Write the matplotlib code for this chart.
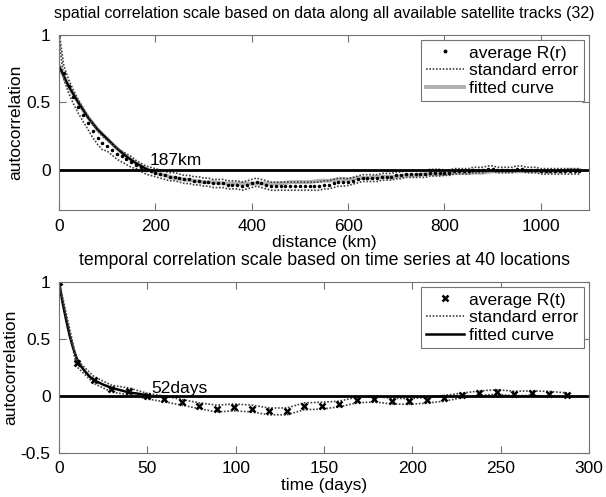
import numpy as np
import matplotlib.pyplot as plt

plt.rcParams['font.family'] = ['Liberation Sans', 'DejaVu Sans']

# spatial: average R(r) every 10 km
dist_km = np.arange(0, 1090, 10)
avg_r = [1.00, 0.72, 0.62, 0.54, 0.47, 0.41, 0.35, 0.29, 0.24, 0.20,
         0.18, 0.15, 0.12, 0.10, 0.08, 0.06, 0.04, 0.02, 0.00, -0.01,
         -0.02, -0.03, -0.04, -0.05, -0.05, -0.06, -0.07, -0.07, -0.08, -0.08,
         -0.09, -0.09, -0.10, -0.10, -0.10, -0.11, -0.11, -0.11, -0.12, -0.11,
         -0.10, -0.09, -0.10, -0.11, -0.12, -0.12, -0.12, -0.12, -0.12, -0.12,
         -0.12, -0.12, -0.12, -0.12, -0.12, -0.11, -0.11, -0.10, -0.09, -0.09,
         -0.09, -0.08, -0.07, -0.06, -0.06, -0.06, -0.06, -0.05, -0.05, -0.05,
         -0.04, -0.04, -0.03, -0.03, -0.03, -0.03, -0.03, -0.02, -0.02, -0.02,
         -0.02, -0.02, -0.01, -0.01, -0.01, -0.01, 0.00, 0.00, 0.00, 0.01,
         0.01, 0.00, 0.00, 0.00, 0.00, 0.01, 0.01, 0.00, 0.00, 0.00,
         -0.01, -0.01, -0.01, -0.01, -0.01, -0.01, -0.01, -0.01, -0.01]
se_r = [0.03, 0.05, 0.05, 0.05, 0.05, 0.05, 0.05, 0.05, 0.05, 0.05,
        0.04, 0.04, 0.04, 0.04, 0.04, 0.04, 0.03, 0.03, 0.03, 0.03,
        0.03, 0.03, 0.03, 0.03, 0.03, 0.03, 0.03, 0.03, 0.03, 0.03,
        0.03, 0.03, 0.03, 0.03, 0.03, 0.03, 0.03, 0.03, 0.03, 0.03,
        0.03, 0.03, 0.03, 0.03, 0.03, 0.03, 0.03, 0.03, 0.03, 0.03,
        0.03, 0.03, 0.03, 0.03, 0.03, 0.03, 0.03, 0.03, 0.03, 0.03,
        0.025, 0.025, 0.025, 0.025, 0.025, 0.025, 0.025, 0.025, 0.025, 0.025,
        0.025, 0.025, 0.025, 0.025, 0.025, 0.025, 0.025, 0.025, 0.025, 0.025,
        0.02, 0.02, 0.02, 0.02, 0.02, 0.02, 0.02, 0.02, 0.02, 0.02,
        0.02, 0.02, 0.02, 0.02, 0.02, 0.02, 0.02, 0.02, 0.02, 0.02,
        0.02, 0.02, 0.02, 0.02, 0.02, 0.02, 0.02, 0.02, 0.02]
fit_r_km = [0, 20, 40, 60, 80, 100, 120, 140, 160, 180, 187, 200, 220, 240, 260,
            280, 300, 320, 340, 360, 380, 400, 420, 440, 460, 480, 500, 520, 540,
            560, 580, 600, 620, 640, 660, 680, 700, 720, 740, 760, 780, 800, 820,
            840, 860, 880, 900, 920, 940, 960, 980, 1000, 1020, 1040, 1060, 1080]
fit_r = [0.77, 0.62, 0.50, 0.39, 0.30, 0.23, 0.16, 0.10, 0.05, 0.01, 0.00, -0.02,
         -0.04, -0.06, -0.07, -0.08, -0.09, -0.09, -0.10, -0.10, -0.10, -0.10,
         -0.10, -0.10, -0.10, -0.09, -0.09, -0.09, -0.08, -0.08, -0.07, -0.07,
         -0.06, -0.06, -0.05, -0.05, -0.05, -0.04, -0.04, -0.03, -0.03, -0.03,
         -0.02, -0.02, -0.02, -0.02, -0.01, -0.01, -0.01, -0.01, -0.01, -0.01,
         -0.01, -0.01, 0.00, 0.00]
scale_km = 187

# temporal: average R(t) at each repeat cycle
lag_days = [0, 9.9, 19.8, 29.7, 39.7, 49.6, 59.5, 69.4, 79.3, 89.2, 99.2, 109.1,
            119.0, 128.9, 138.8, 148.7, 158.6, 168.6, 178.5, 188.4, 198.3, 208.2,
            218.1, 228.1, 238.0, 247.9, 257.8, 267.7, 277.6, 287.5]
avg_t = [1.00, 0.29, 0.14, 0.065, 0.04, 0.00, -0.025, -0.055, -0.085, -0.11,
         -0.10, -0.11, -0.135, -0.135, -0.09, -0.085, -0.07, -0.035, -0.027, -0.045,
         -0.048, -0.037, -0.02, 0.005, 0.025, 0.035, 0.022, 0.025, 0.02, 0.008]
se_t = [0.01, 0.03, 0.03, 0.03, 0.03, 0.025, 0.025, 0.025, 0.025, 0.03,
        0.03, 0.03, 0.03, 0.03, 0.03, 0.03, 0.025, 0.025, 0.025, 0.025,
        0.025, 0.025, 0.025, 0.02, 0.02, 0.02, 0.02, 0.02, 0.02, 0.02]
fit_t_days = [0, 2, 4, 6, 8, 10, 12, 15, 18, 21, 25, 30, 35, 40, 45, 52]
fit_t = [1.0, 0.82, 0.67, 0.53, 0.42, 0.33, 0.27, 0.21, 0.16, 0.13, 0.10, 0.07,
         0.05, 0.03, 0.02, 0.0]
scale_days = 52

fs = 12.5
dot = (0, (1, 1))


def style(ax):
    for s in ax.spines.values():
        s.set_color('0.45')
        s.set_linewidth(0.8)
    ax.tick_params(direction='in', top=True, right=True, length=5, width=0.8,
                   color='0.45', labelsize=fs, pad=6)


fig = plt.figure(figsize=(6.06, 4.97), dpi=100)

# top panel
ax1 = fig.add_axes([0.0974, 0.5765, 0.8746, 0.3531])
avg_r_a = np.array(avg_r)
se_r_a = np.array(se_r)
lg, = ax1.plot(fit_r_km, fit_r, color='#b0b0b0', lw=2.8)
fit_r_km_a = np.array(fit_r_km)
m = fit_r_km_a <= scale_km
ax1.plot(fit_r_km_a[m], np.array(fit_r)[m], color='black', lw=1.6)
ls, = ax1.plot(dist_km, avg_r_a + se_r_a, color='0.25', lw=1.2, ls=dot)
ax1.plot(dist_km, avg_r_a - se_r_a, color='0.25', lw=1.2, ls=dot)
lm, = ax1.plot(dist_km, avg_r_a, ls='none', marker='.', ms=3, color='black')
ax1.axhline(0, color='black', lw=2)
ax1.text(scale_km + 2, 0.035, f'{scale_km}km', fontsize=fs)
ax1.set_xlim(0, 1100)
ax1.set_ylim(-0.3, 1)
ax1.set_xticks([0, 200, 400, 600, 800, 1000])
ax1.set_yticks([0, 0.5, 1])
ax1.set_yticklabels(['0', '0.5', '1'])
ax1.set_xlabel('distance (km)', fontsize=fs, labelpad=1)
ax1.set_ylabel('autocorrelation', fontsize=fs, labelpad=2)
ax1.set_title('spatial correlation scale based on data along all available satellite tracks (32)',
              fontsize=11.4, pad=12)
style(ax1)
leg = ax1.legend([lm, ls, lg], ['average R(r)', 'standard error', 'fitted curve'],
                 loc='upper right', fontsize=fs, fancybox=False, edgecolor='0.45',
                 framealpha=1, borderpad=0.3, labelspacing=0.15, handlelength=2.2,
                 handletextpad=0.3, borderaxespad=0.3, markerscale=1.2)
leg.get_frame().set_linewidth(0.8)

# bottom panel
ax2 = fig.add_axes([0.0974, 0.0885, 0.8746, 0.3441])
avg_t_a = np.array(avg_t)
se_t_a = np.array(se_t)
lf, = ax2.plot(fit_t_days, fit_t, color='black', lw=1.8)
ls2, = ax2.plot(lag_days, avg_t_a + se_t_a, color='0.25', lw=1.2, ls=dot)
ax2.plot(lag_days, avg_t_a - se_t_a, color='0.25', lw=1.2, ls=dot)
lm2, = ax2.plot(lag_days, avg_t_a, ls='none', marker='x', ms=5, mew=1.8, color='black')
ax2.axhline(0, color='black', lw=2)
ax2.text(scale_days, 0.03, f'{scale_days}days', fontsize=fs)
ax2.set_xlim(0, 300)
ax2.set_ylim(-0.5, 1)
ax2.set_xticks([0, 50, 100, 150, 200, 250, 300])
ax2.set_yticks([-0.5, 0, 0.5, 1])
ax2.set_yticklabels(['-0.5', '0', '0.5', '1'])
ax2.set_xlabel('time (days)', fontsize=fs, labelpad=1)
ax2.set_ylabel('autocorrelation', fontsize=fs, labelpad=2)
ax2.set_title('temporal correlation scale based on time series at 40 locations',
              fontsize=12.8, pad=12)
style(ax2)
leg2 = ax2.legend([lm2, ls2, lf], ['average R(t)', 'standard error', 'fitted curve'],
                  loc='upper right', fontsize=fs, fancybox=False, edgecolor='0.45',
                  framealpha=1, borderpad=0.3, labelspacing=0.15, handlelength=2.2,
                  handletextpad=0.3, borderaxespad=0.3)
leg2.get_frame().set_linewidth(0.8)

fig.savefig('out.png', dpi=100)
